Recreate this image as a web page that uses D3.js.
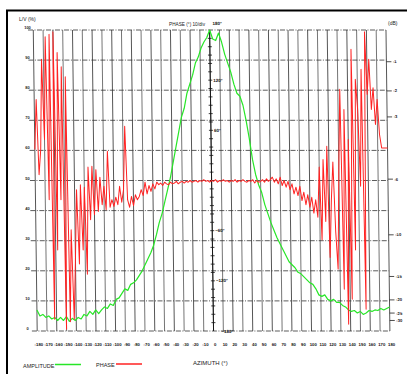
<!DOCTYPE html>
<html><head><meta charset="utf-8">
<script src="https://cdn.jsdelivr.net/npm/d3@7"></script>
<style>html,body{margin:0;padding:0;background:#fff}svg{display:block}text{font-family:"Liberation Sans",Arial,sans-serif;fill:#222}</style>
</head><body>
<script>
// ---- data ----
const azTicks = d3.range(-180, 181, 10);
const xTickLabels = azTicks.map(String);
const pctTicks = [0,10,20,30,40,50,60,70,80,90,100];
const dbTicks = [-1,-2,-3,-6,-10,-15,-20,-25,-30];
const phaseLabels = [180,120,60,-60,-120,-180];
const ampAz = d3.range(-180, 181, 3);
const amplitude = [7,5,5.5,4.5,5,4,4.5,3.5,4.5,3.5,4.8,3.2,4.2,3.5,4.5,4,5.5,5,6.5,5.5,
 7,5.8,7,8,7.5,9,8.5,10.5,11,12.5,14,13.5,15.5,16,17,18.5,20,22,24,26,
 28.5,32,36,39,43,47,51,56,61,66,71,74,79,82,85,89,91,94,96,97.5,
 100,97,96.5,99,96,92,89,86,82,79,78,75,70,64,57,52,48.5,46,42,39,
 36,33.5,31,29,27,25,23,22,21,19.5,19,18,17,16,15.5,14,12,11.5,12,10.5,
 10,10.5,9.5,9.5,8.5,8,7,6.5,6.8,6,6.5,5.5,6,6.8,6.5,7,6.8,7.5,7,7.5,8];
const phaseAz = d3.range(-180, 181, 2);
const phase = [37,97,7,37,145,49,172,-23,175,-166,178,-83,153,-23,136,-178,124,-169,-59,-166,
 -94,-11,-100,-5,-83,-8,-112,16,-47,17,-41,13,-37,4,-29,-7,-35,35,-32,-23,
 -31,-20,-29,-7,-26,-11,65,-23,-32,-19,-30,-17,-23,-19,-11,-18,-2,-16,-6,-13,
 -4,-10,-2,
 -5,-3,-6,-2,-4,-5,-2,-4,-3,-1,-4,-2,-1,-3,-1,-2,0,-2,-1,0,-2,0,-1,1,-1,0,-2,
 0,-1,1,-2,0,-1,1,-1,0,-2,0,-1,1,-2,0,-1,1,-1,-2,0,-1,1,-3,0,-2,
 -1,1,-2,2,-1,1,4,-2,2,-4,4,-6,0,-8,-1,-11,-4,-16,-8,-18,
 -7,-24,-14,-29,-17,-32,-20,-39,-23,-44,16,-71,25,-49,41,-92,-23,22,-61,-106,
 13,109,-130,85,-172,49,-142,157,-83,121,85,-7,133,-154,178,103,145,85,111,67,
 97,55,39,39,39,39];

// ---- layout ----
const W = 407, H = 374;
const svg = d3.select("body").append("svg").attr("width", W).attr("height", H);
const x = d3.scaleLinear().domain([-180,180]).range([32.9,385.6]);
const y = d3.scaleLinear().domain([0,100]).range([331,30]);
const yp = d3.scaleLinear().domain([-180,180]).range([331,30]);
const skew = Math.atan(0.013)*180/Math.PI;

// frame
svg.append("line").attr("x1",6).attr("x2",407).attr("y1",10.5).attr("y2",10.5).attr("stroke","#000").attr("stroke-width",2);
svg.append("line").attr("x1",7).attr("x2",7).attr("y1",10).attr("y2",374).attr("stroke","#000").attr("stroke-width",2);

const g = svg.append("g").attr("transform", `skewX(${skew})`);

// vertical grid
g.append("g").selectAll("line").data(azTicks).join("line")
 .attr("x1",d=>x(d)).attr("x2",d=>x(d)).attr("y1",y(100)).attr("y2",y(0))
 .attr("stroke",(d,i)=> i%2 ? "#666" : "#444").attr("stroke-width",0.9);
// horizontal grid
g.append("g").selectAll("line").data(pctTicks).join("line")
 .attr("x1",27.6).attr("x2",x(180)).attr("y1",d=>y(d)).attr("y2",d=>y(d))
 .attr("stroke","#333").attr("stroke-width",0.8).attr("stroke-dasharray","5,1.5,1,1.5");

// center phase axis
g.append("line").attr("x1",x(0)).attr("x2",x(0)).attr("y1",y(100)).attr("y2",y(0)).attr("stroke","#111").attr("stroke-width",0.9);
g.append("g").selectAll("line").data(d3.range(-170,171,10)).join("line")
 .attr("x1",x(0)-2).attr("x2",x(0)+2).attr("y1",d=>yp(d)).attr("y2",d=>yp(d))
 .attr("stroke","#111").attr("stroke-width",0.8);
g.append("g").selectAll("text").data(phaseLabels).join("text")
 .attr("x",d=> d===-180 ? x(0)+8 : x(0)+3)
 .attr("y",d=> d===180 ? 25.5 : (d===-180 ? 333.5 : yp(d)+1.5))
 .attr("font-size",4.5).attr("font-weight","bold")
 .text(d=> (d<0 ? "\u2013" : "") + Math.abs(d) + "\u00b0");

// right dB axis
const dbY = d => y(100*Math.pow(10, d/20));
g.append("g").selectAll("line").data(dbTicks).join("line")
 .attr("x1",x(180)).attr("x2",x(180)+5).attr("y1",d=>dbY(d)-1).attr("y2",d=>dbY(d)-1)
 .attr("stroke","#222").attr("stroke-width",0.8);
g.append("g").selectAll("text").data(dbTicks).join("text")
 .attr("x",x(180)+6.5).attr("y",d=>dbY(d)+0.5)
 .attr("font-size",4.2).attr("font-weight","bold").text(d=>String(d));

// bottom azimuth labels
g.append("g").selectAll("text").data(azTicks).join("text")
 .attr("x",(d,i)=>x(d)+1.5).attr("y",346.5).attr("text-anchor","middle")
 .attr("font-size",4.3).attr("font-weight","bold").text((d,i)=>xTickLabels[i]);

// data lines
const ampLine = d3.line().x((d,i)=>x(ampAz[i])).y(d=>y(d));
g.append("path").datum(amplitude).attr("d",ampLine).attr("fill","none")
 .attr("stroke","#27e627").attr("stroke-width",1.2).attr("stroke-linejoin","round");
const phLine = d3.line().x((d,i)=>x(phaseAz[i])).y(d=>yp(d));
g.append("path").datum(phase).attr("d",phLine).attr("fill","none")
 .attr("stroke","#f22").attr("stroke-width",1).attr("stroke-linejoin","round");

// left labels
svg.append("g").selectAll("text").data(pctTicks).join("text")
 .attr("x",27.5).attr("y",d=>y(d)-1).attr("text-anchor","middle")
 .attr("font-size",4).attr("font-weight","bold").text(d=>d);

// titles
svg.append("text").attr("x",19).attr("y",21).attr("font-size",5).text("L/V (%)");
svg.append("text").attr("x",169).attr("y",25.5).attr("font-size",4.7).text("PHASE (\u00b0) 10/div");
svg.append("text").attr("x",388).attr("y",25).attr("font-size",5).text("(dB)");
svg.append("text").attr("x",193).attr("y",364.5).attr("font-size",6).text("AZIMUTH (\u00b0)");

// legend
svg.append("text").attr("x",23).attr("y",367.5).attr("font-size",5.5).text("AMPLITUDE");
svg.append("line").attr("x1",55).attr("x2",81).attr("y1",364.5).attr("y2",364.5).attr("stroke","#27e627").attr("stroke-width",1.5);
svg.append("text").attr("x",96).attr("y",367).attr("font-size",5.5).text("PHASE");
svg.append("line").attr("x1",116).attr("x2",142).attr("y1",364).attr("y2",364).attr("stroke","#f22").attr("stroke-width",1.5);
</script>
</body></html>
